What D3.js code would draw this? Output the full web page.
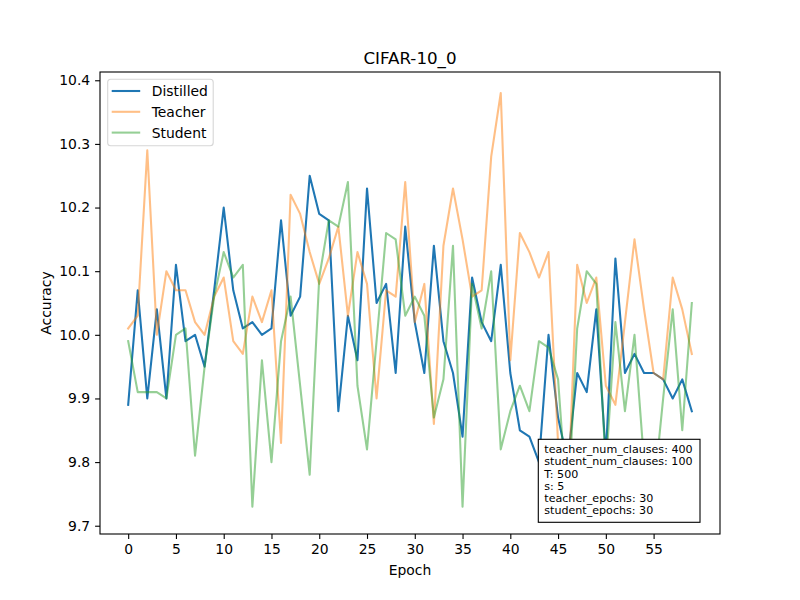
<!DOCTYPE html>
<html>
<head>
<meta charset="utf-8">
<script src="https://cdn.jsdelivr.net/npm/d3@7"></script>
<style>
    body { margin: 0; background: #fff; }
    text { font-family: "DejaVu Sans", sans-serif; fill: #000; }
</style>
</head>
<body>
<svg id="chart" width="800" height="600"></svg>
<script>

    // data
    var epochs = d3.range(60);
    var distilled = [9.89, 10.07, 9.90, 10.04, 9.90, 10.11, 9.99, 10.00, 9.95, 10.07,
        10.20, 10.07, 10.01, 10.02, 10.00, 10.01, 10.18, 10.03, 10.06, 10.25,
        10.19, 10.18, 9.88, 10.03, 9.96, 10.23, 10.05, 10.08, 9.94, 10.17,
        10.02, 9.94, 10.14, 9.99, 9.94, 9.84, 10.09, 10.02, 9.99, 10.11,
        9.94, 9.85, 9.84, 9.80, 10.00, 9.87, 9.80, 9.94, 9.91, 10.04,
        9.81, 10.12, 9.94, 9.97, 9.94, 9.94, 9.93, 9.90, 9.93, 9.88];
    var teacher = [10.01, 10.03, 10.29, 10.00, 10.10, 10.07, 10.07, 10.02, 10.00, 10.06,
        10.09, 9.99, 9.97, 10.06, 10.02, 10.07, 9.83, 10.22, 10.19, 10.13,
        10.08, 10.12, 10.17, 10.03, 10.13, 10.08, 9.90, 10.07, 10.06, 10.24,
        10.02, 10.08, 9.86, 10.14, 10.23, 10.15, 10.06, 10.07, 10.28, 10.38,
        9.96, 10.16, 10.13, 10.09, 10.13, 9.83, 9.73, 10.11, 10.05, 10.09,
        9.92, 9.89, 10.02, 10.15, 10.04, 9.94, 9.93, 10.09, 10.04, 9.97];
    var student = [9.99, 9.91, 9.91, 9.91, 9.90, 10.00, 10.01, 9.81, 9.95, 10.06,
        10.13, 10.09, 10.11, 9.73, 9.96, 9.80, 9.99, 10.06, 9.92, 9.78,
        10.09, 10.18, 10.17, 10.24, 9.92, 9.82, 9.99, 10.16, 10.15, 10.03,
        10.06, 10.03, 9.87, 9.93, 10.14, 9.73, 10.08, 10.01, 10.10, 9.82,
        9.88, 9.92, 9.88, 9.99, 9.98, 9.93, 9.72, 10.01, 10.10, 10.08,
        9.79, 10.02, 9.88, 10.00, 9.80, 9.75, 9.90, 10.04, 9.85, 10.05];
    var seriesNames = ['Distilled', 'Teacher', 'Student'];
    var xTicks = d3.range(0, 60, 5);
    var yTicks = [9.7, 9.8, 9.9, 10.0, 10.1, 10.2, 10.3, 10.4];
    var title = 'CIFAR-10_0';
    var infoLines = ['teacher_num_clauses: 400', 'student_num_clauses: 100', 'T: 500',
        's: 5', 'teacher_epochs: 30', 'student_epochs: 30'];

    var colors = ['#1f77b4', '#ff7f0e', '#2ca02c'];
    var alphas = [1, 0.5, 0.5];
    var margin = {top: 72, right: 80, bottom: 66, left: 100};
    var dim = {w: 800 - margin.left - margin.right, h: 600 - margin.top - margin.bottom};

    var svg = d3.select('#chart').append('g')
        .attr('transform', 'translate(' + margin.left + ',' + margin.top + ')');

    // matplotlib style 5% margins
    var all = distilled.concat(teacher, student);
    var yMin = d3.min(all), yMax = d3.max(all);
    var yPad = (yMax - yMin) * 0.05;
    var xPad = (d3.max(epochs) - d3.min(epochs)) * 0.05;

    var x = d3.scaleLinear()
        .domain([d3.min(epochs) - xPad, d3.max(epochs) + xPad])
        .range([0, dim.w]);
    var y = d3.scaleLinear()
        .domain([yMin - yPad, yMax + yPad])
        .range([dim.h, 0]);

    //axes
    var xAxis = svg.append('g')
        .attr('transform', 'translate(0,' + dim.h + ')')
        .call(d3.axisBottom(x).tickValues(xTicks).tickSize(4.9).tickPadding(4.9).tickFormat(d3.format('d')));
    var yAxis = svg.append('g')
        .call(d3.axisLeft(y).tickValues(yTicks).tickSize(4.9).tickPadding(4.9).tickFormat(d3.format('.1f')));
    [xAxis, yAxis].forEach(function (a) {
        a.select('.domain').remove();
        a.selectAll('line').attr('stroke', '#000').attr('stroke-width', 1.1);
        a.selectAll('text')
            .style('font-family', '"DejaVu Sans", sans-serif')
            .style('font-size', '13.9px')
            .attr('fill', '#000');
    });

    //lines
    var line = d3.line()
        .x(function (d, i) { return x(epochs[i]); })
        .y(function (d) { return y(d); });
    [distilled, teacher, student].forEach(function (data, i) {
        svg.append('path')
            .datum(data)
            .attr('d', line)
            .attr('fill', 'none')
            .attr('stroke', colors[i])
            .attr('stroke-opacity', alphas[i])
            .attr('stroke-width', 2.08)
            .attr('stroke-linejoin', 'round')
            .attr('stroke-linecap', 'square');
    });

    //frame
    svg.append('rect')
        .attr('width', dim.w)
        .attr('height', dim.h)
        .attr('fill', 'none')
        .attr('stroke', '#000')
        .attr('stroke-width', 1.1);

    //legend
    var legend = svg.append('g').attr('transform', 'translate(7.7,7.3)');
    legend.append('rect')
        .attr('width', 105.5)
        .attr('height', 66.5)
        .attr('rx', 3)
        .attr('fill', '#fff')
        .attr('fill-opacity', 0.8)
        .attr('stroke', '#d6d6d6')
        .attr('stroke-width', 1.1);
    seriesNames.forEach(function (name, i) {
        var ly = 11.7 + i * 20.8;
        legend.append('line')
            .attr('x1', 4).attr('x2', 32.5)
            .attr('y1', ly).attr('y2', ly)
            .attr('stroke', colors[i])
            .attr('stroke-opacity', alphas[i])
            .attr('stroke-width', 2.08);
        legend.append('text')
            .attr('x', 44)
            .attr('y', ly)
            .attr('dy', '0.36em')
            .style('font-size', '13.9px')
            .text(name);
    });

    //info box
    var box = svg.append('g').attr('transform', 'translate(438.3,367.3)');
    box.append('rect')
        .attr('width', 161.7)
        .attr('height', 83)
        .attr('fill', '#fff')
        .attr('stroke', '#000')
        .attr('stroke-width', 1.1);
    infoLines.forEach(function (t, i) {
        box.append('text')
            .attr('x', 6)
            .attr('y', 10 + i * 12.15)
            .attr('dy', '0.36em')
            .style('font-size', '11.1px')
            .text(t);
    });

    //titles
    svg.append('text')
        .attr('x', dim.w / 2)
        .attr('y', -8.3)
        .attr('text-anchor', 'middle')
        .style('font-size', '16.7px')
        .text(title);
    svg.append('text')
        .attr('x', dim.w / 2)
        .attr('y', dim.h + 40.5)
        .attr('text-anchor', 'middle')
        .style('font-size', '13.9px')
        .text('Epoch');
    svg.append('text')
        .attr('transform', 'translate(-49,' + dim.h / 2 + ') rotate(-90)')
        .attr('text-anchor', 'middle')
        .style('font-size', '13.9px')
        .text('Accuracy');

</script>
</body>
</html>
